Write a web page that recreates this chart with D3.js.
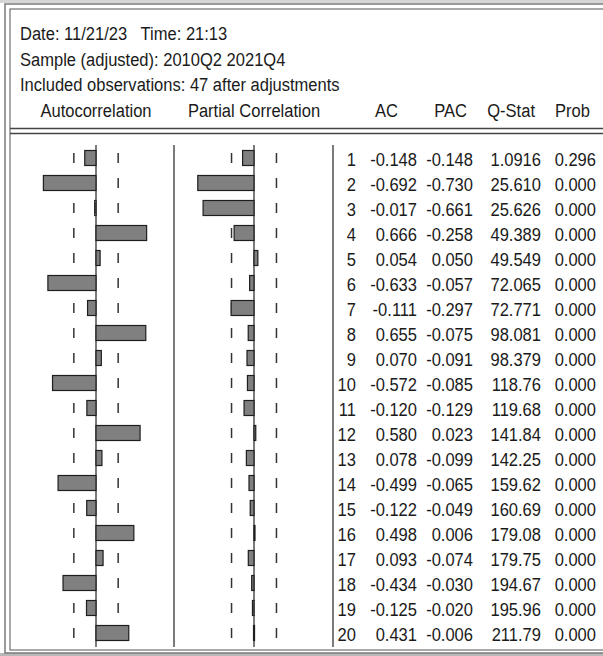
<!DOCTYPE html>
<html>
<head>
<meta charset="utf-8">
<script src="https://cdn.jsdelivr.net/npm/d3@7"></script>
<style>
  body { margin: 0; background: #fff; }
  text { font-family: "Liberation Sans", Arial, sans-serif; font-size: 19px; fill: #1a1a1a; white-space: pre; }
</style>
</head>
<body>
<svg id="chart" width="603" height="656"></svg>
<script>
// correlogram values
var lags = [1,2,3,4,5,6,7,8,9,10,11,12,13,14,15,16,17,18,19,20];
var acValues = [-0.148,-0.692,-0.017,0.666,0.054,-0.633,-0.111,0.655,0.070,-0.572,-0.120,0.580,0.078,-0.499,-0.122,0.498,0.093,-0.434,-0.125,0.431];
var pacValues = [-0.148,-0.730,-0.661,-0.258,0.050,-0.057,-0.297,-0.075,-0.091,-0.085,-0.129,0.023,-0.099,-0.065,-0.049,0.006,-0.074,-0.030,-0.020,-0.006];
var qStat = ["1.0916","25.610","25.626","49.389","49.549","72.065","72.771","98.081","98.379","118.76","119.68","141.84","142.25","159.62","160.69","179.08","179.75","194.67","195.96","211.79"];
var prob = ["0.296","0.000","0.000","0.000","0.000","0.000","0.000","0.000","0.000","0.000","0.000","0.000","0.000","0.000","0.000","0.000","0.000","0.000","0.000","0.000"];
var headerLines = ["Date: 11/21/23   Time: 21:13", "Sample (adjusted): 2010Q2 2021Q4", "Included observations: 47 after adjustments"];
var nObs = 47;

var svg = d3.select("#chart");
var sx = 0.87; // narrow look of the original font

// frame
svg.append("rect").attr("x", 0).attr("y", 0).attr("width", 603).attr("height", 3).attr("fill", "#d6d6d6");
svg.append("rect").attr("x", 0).attr("y", 653).attr("width", 603).attr("height", 3).attr("fill", "#b8b8b8");
svg.append("rect").attr("x", 5).attr("y", 4).attr("width", 610).attr("height", 649)
  .attr("fill", "none").attr("stroke", "#7a7a7a").attr("stroke-width", 1.5);
svg.append("rect").attr("x", 10).attr("y", 9).attr("width", 610).attr("height", 641)
  .attr("fill", "none").attr("stroke", "#555").attr("stroke-width", 1);

function addText(x, y, str, anchor) {
  svg.append("text")
    .attr("transform", "translate(" + x + "," + y + ") scale(" + sx + ",1)")
    .attr("text-anchor", anchor || "start")
    .text(str);
}

headerLines.forEach(function(s, i) { addText(20, 40 + i * 25.7, s); });

var acZero = 96, pacZero = 254, unit = 76;
var xAC = d3.scaleLinear().domain([-1, 1]).range([acZero - unit, acZero + unit]);
var xPAC = d3.scaleLinear().domain([-1, 1]).range([pacZero - unit - 1, pacZero + unit + 1]);
var y = d3.scaleLinear().domain([1, 20]).range([158, 158 + 19 * 25]);

addText(acZero, 117, "Autocorrelation", "middle");
addText(pacZero, 117, "Partial Correlation", "middle");
addText(398, 117, "AC", "end");
addText(467, 117, "PAC", "end");
addText(535, 117, "Q-Stat", "end");
addText(590, 117, "Prob", "end");

// double separator
[128.5, 133.5].forEach(function(yy) {
  svg.append("line").attr("x1", 10).attr("x2", 603).attr("y1", yy).attr("y2", yy)
    .attr("stroke", "#444").attr("stroke-width", 1.5);
});

// vertical lines
var lineTop = 145, lineBot = 647;
[xAC(0), 174, xPAC(0), 333].forEach(function(xx) {
  svg.append("line").attr("x1", xx).attr("x2", xx).attr("y1", lineTop).attr("y2", lineBot)
    .attr("stroke", "#333").attr("stroke-width", 1.3);
});

// confidence band dashes
var band = 2 / Math.sqrt(nObs);
var dashes = [];
lags.forEach(function(l) {
  dashes.push({x: xAC(-band), l: l}, {x: xAC(band), l: l}, {x: xPAC(-band), l: l}, {x: xPAC(band), l: l});
});
svg.append("g").selectAll("line").data(dashes).enter().append("line")
  .attr("x1", d => d.x).attr("x2", d => d.x)
  .attr("y1", d => y(d.l) - 5).attr("y2", d => y(d.l) + 5)
  .attr("stroke", "#333").attr("stroke-width", 1.5);

var barH = 15;
function drawBars(values, scale) {
  svg.append("g").selectAll("rect").data(values).enter().append("rect")
    .attr("x", d => Math.min(scale(0), scale(d)))
    .attr("y", (d, i) => y(lags[i]) - barH / 2)
    .attr("width", d => Math.max(1, Math.abs(scale(d) - scale(0))))
    .attr("height", barH)
    .attr("fill", "#808080")
    .attr("stroke", "#1e1e1e")
    .attr("stroke-width", 1.2);
}
drawBars(acValues, xAC);
drawBars(pacValues, xPAC);

// numbers
lags.forEach(function(l, i) {
  var yy = y(l) + 8;
  addText(356, yy, String(l), "end");
  addText(417, yy, acValues[i].toFixed(3), "end");
  addText(473, yy, pacValues[i].toFixed(3), "end");
  addText(541, yy, qStat[i], "end");
  addText(596, yy, prob[i], "end");
});
</script>
</body>
</html>
